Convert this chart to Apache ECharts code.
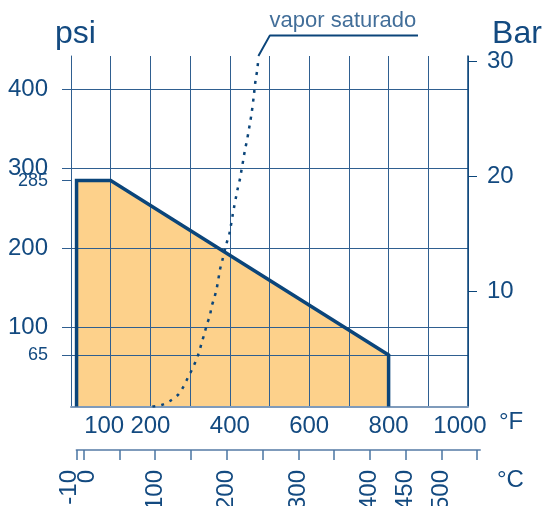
<!DOCTYPE html>
<html>
<head>
<meta charset="utf-8">
<script src="https://cdn.jsdelivr.net/npm/echarts@6/dist/echarts.min.js"></script>
<style>
html,body{margin:0;padding:0;background:#fff;}
#c{width:545px;height:506px;}
</style>
</head>
<body>
<div id="c"></div>
<script>
// ---- data ----
const ratingF = [14, 14, 100, 800, 800];
const ratingPsi = [0, 285, 285, 65, 0];

const vaporF = [205, 228, 249, 270, 283, 294, 304, 314, 322, 329, 336, 342, 350, 354, 361, 367, 371, 375, 381, 392, 399, 403, 407, 411, 416, 420, 426, 430, 434, 438, 443, 447, 451, 455, 461, 465, 469, 472];
const vaporPsi = [0, 2, 7, 15, 25, 36, 46, 57, 68, 80, 92, 103, 115, 126, 137, 149, 160, 172, 184, 206, 218, 229, 241, 252, 265, 275, 288, 300, 311, 323, 335, 346, 358, 370, 394, 412, 424, 439];

const leaderF = [472, 501, 874];
const leaderPsi = [442, 468, 468];
const annotF = [685];
const annotPsi = [468];
const annotText = 'vapor saturado';

const psiTicks = [65, 100, 200, 300, 400];
const psiSmallTicks = [285];
const barTicks = [10, 20, 30];
const fLabels = [100, 200, 400, 600, 800, 1000];
const cTicks = [-10, 50, 100, 150, 200, 250, 300, 350, 400, 450, 500, 550];
const cLabels = [-10, 100, 200, 300, 400, 450, 500];
const cZero = [0];

const PSI_MAX = 442;
const PSI_PER_BAR = 14.5038;

// ---- styles ----
const TXT = '#134a80';
const DARK = '#0b457a';
const GRID = '#2f5f90';
const LIGHT = '#7f9bbb';
const FONT = 'Liberation Sans, Arial, sans-serif';
const FS = 24;

const zipPts = (xs, ys) => xs.map((x, i) => [x, ys[i]]);

const cAxisBase = {
  type: 'value', gridIndex: 1, min: -10, max: 554, position: 'bottom'
};

const chart = echarts.init(document.getElementById('c'), null, {renderer: 'canvas'});
chart.setOption({
  animation: false,
  backgroundColor: '#fff',
  textStyle: {fontFamily: FONT, color: TXT},
  grid: [
    {left: 71, right: 77, top: 56, bottom: 99.4, containLabel: false, outerBoundsMode: 'none'},
    {left: 76.56, right: 65, top: 449, height: 1, containLabel: false, outerBoundsMode: 'none'}
  ],
  xAxis: [
    {
      type: 'value', gridIndex: 0, min: 0, max: 1000, interval: 100, z: 2,
      name: '°F', nameLocation: 'end', nameGap: 31, nameMoveOverlap: false,
      nameTextStyle: {fontSize: FS, color: TXT, fontFamily: FONT, verticalAlign: 'top', lineHeight: 32},
      axisLine: {show: true, lineStyle: {color: LIGHT, width: 2}},
      axisTick: {show: false},
      splitLine: {show: true, lineStyle: {color: GRID, width: 1}},
      axisLabel: {
        customValues: fLabels, margin: 8, fontSize: FS, color: TXT, fontFamily: FONT,
        hideOverlap: false, showMinLabel: true, showMaxLabel: true,
        formatter: v => v === 100 ? '{a|100}' : (v === 1000 ? '{b|1000}' : String(v)),
        rich: {
          a: {fontSize: FS, color: TXT, fontFamily: FONT, padding: [0, 13, 0, 0]},
          b: {fontSize: FS, color: TXT, fontFamily: FONT, padding: [0, 16, 0, 0]}
        }
      }
    },
    Object.assign({}, cAxisBase, {
      name: '°C', nameLocation: 'end', nameGap: 17, nameMoveOverlap: false,
      nameTextStyle: {fontSize: FS, color: TXT, fontFamily: FONT, verticalAlign: 'top', lineHeight: 60},
      axisLine: {show: true, lineStyle: {color: LIGHT, width: 2}},
      axisTick: {show: true, customValues: cTicks, length: 10, lineStyle: {color: '#4a76a2', width: 1.5}},
      splitLine: {show: false},
      axisLabel: {
        customValues: cLabels, rotate: 90, margin: 20, fontSize: FS, color: TXT, fontFamily: FONT,
        hideOverlap: false, showMinLabel: true, showMaxLabel: true,
        formatter: v => v === -10 ? '{m|-10}' : String(v),
        rich: {
          m: {fontSize: FS, color: TXT, fontFamily: FONT, padding: [0, 0, 14, 0]}
        }
      }
    }),
    Object.assign({}, cAxisBase, {
      axisLine: {show: false},
      axisTick: {show: true, customValues: cZero, length: 10, lineStyle: {color: '#4a76a2', width: 1.5}},
      splitLine: {show: false},
      axisLabel: {
        customValues: cZero, rotate: 90, margin: 20, fontSize: FS, color: TXT, fontFamily: FONT,
        hideOverlap: false, showMinLabel: true, showMaxLabel: true,
        formatter: v => '{z|' + v + '}',
        rich: {
          z: {fontSize: FS, color: TXT, fontFamily: FONT, padding: [7, 0, 0, 0]}
        }
      }
    })
  ],
  yAxis: [
    {
      type: 'value', gridIndex: 0, min: 0, max: PSI_MAX, position: 'left', z: 2,
      name: 'psi', nameLocation: 'end', nameGap: 6, nameMoveOverlap: false,
      nameTextStyle: {fontSize: 32, color: TXT, fontFamily: FONT, padding: [0, 0, 0, 9]},
      axisLine: {show: true, lineStyle: {color: GRID, width: 1}},
      axisTick: {show: true, customValues: psiTicks, length: 9, lineStyle: {color: GRID, width: 1}},
      splitLine: {show: true, lineStyle: {color: GRID, width: 1}},
      axisLabel: {
        customValues: psiTicks, margin: 23, fontSize: FS, color: TXT, fontFamily: FONT, hideOverlap: false,
        formatter: v => v === 65 ? '{s|65}' : String(v),
        rich: {s: {fontSize: 18, color: TXT, fontFamily: FONT}}
      }
    },
    {
      type: 'value', gridIndex: 0, min: 0, max: PSI_MAX / PSI_PER_BAR, position: 'right', z: 2,
      name: 'Bar', nameLocation: 'end', nameGap: 6, nameMoveOverlap: false,
      nameTextStyle: {fontSize: 32, color: TXT, fontFamily: FONT, padding: [0, 0, 0, 98]},
      axisLine: {show: true, lineStyle: {color: DARK, width: 1.5}},
      axisTick: {show: true, customValues: barTicks, length: 9, lineStyle: {color: DARK, width: 1}},
      splitLine: {show: false},
      axisLabel: {customValues: barTicks, margin: 19, fontSize: FS, color: TXT, fontFamily: FONT, hideOverlap: false}
    },
    {
      type: 'value', gridIndex: 0, min: 0, max: PSI_MAX, position: 'left', z: 2,
      axisLine: {show: false},
      axisTick: {show: true, customValues: psiSmallTicks, length: 9, lineStyle: {color: GRID, width: 1}},
      splitLine: {show: false},
      axisLabel: {customValues: psiSmallTicks, margin: 23, fontSize: 18, color: TXT, fontFamily: FONT, hideOverlap: false}
    },
    {type: 'value', gridIndex: 1, min: 0, max: 1, show: false}
  ],
  series: [
    {
      name: 'area', type: 'line', xAxisIndex: 0, yAxisIndex: 0, z: 1,
      data: zipPts(ratingF, ratingPsi), symbol: 'none',
      lineStyle: {width: 0, opacity: 0},
      areaStyle: {color: '#fdd18b', opacity: 1, origin: 'start'}
    },
    {
      name: 'rating', type: 'line', xAxisIndex: 0, yAxisIndex: 0, z: 3,
      data: zipPts(ratingF, ratingPsi), symbol: 'none',
      lineStyle: {color: DARK, width: 3.5, join: 'miter'}
    },
    {
      name: 'vapor', type: 'line', xAxisIndex: 0, yAxisIndex: 0, z: 4,
      data: zipPts(vaporF, vaporPsi), symbol: 'none', smooth: 0.3,
      lineStyle: {color: DARK, width: 2.5, type: [3, 6]}
    },
    {
      name: 'leader', type: 'line', xAxisIndex: 0, yAxisIndex: 0, z: 4, clip: false,
      data: zipPts(leaderF, leaderPsi), symbol: 'none',
      lineStyle: {color: DARK, width: 2}
    },
    {
      name: 'annot', type: 'scatter', xAxisIndex: 0, yAxisIndex: 0, z: 5, clip: false,
      data: zipPts(annotF, annotPsi), symbolSize: 0.1,
      itemStyle: {color: 'rgba(0,0,0,0)'},
      label: {show: true, position: 'top', distance: 3, formatter: annotText, fontSize: 22, color: TXT, fontFamily: FONT},
      silent: true
    }
  ]
});
</script>
</body>
</html>
